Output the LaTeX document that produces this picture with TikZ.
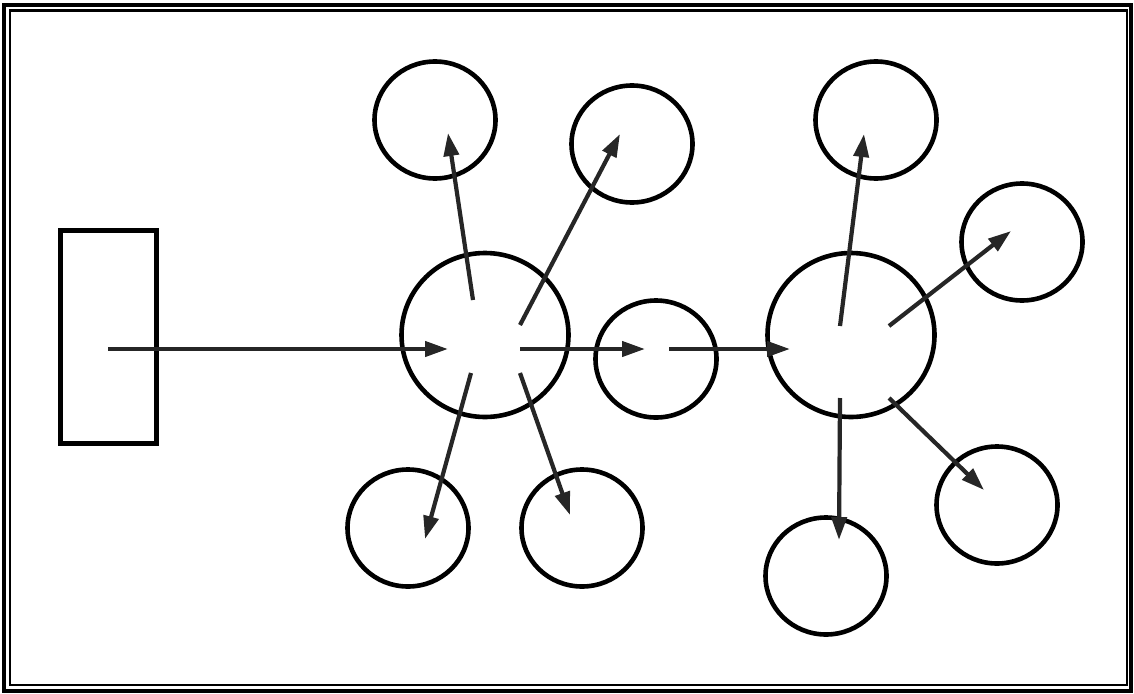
\documentclass[tikz,border=0pt]{standalone}
\usepackage{tikz}
\usetikzlibrary{arrows,arrows.meta,shapes}
\tikzstyle{blob}=[ellipse,draw,line width=4.6pt,inner sep=0pt,minimum width=121pt,minimum height=117pt]
\tikzstyle{hub}=[blob,minimum width=167pt,minimum height=164pt]
\tikzstyle{flow}=[line width=4.2pt,black!85,->,>={Triangle[length=23pt,width=15pt]}]

\begin{document}
\begin{tikzpicture}[x=1pt, y=-1pt]

    \useasboundingbox (0,0) rectangle (1134,693);

    % frame
    \draw[line width=3.5pt] (4,5) rectangle (1131,691);
    \draw[line width=2.5pt] (10,10.5) rectangle (1127,685);

    \node[draw, line width=5pt, minimum width=96pt, minimum height=213pt, inner sep=0pt] (src) at (108,336.5) {};

    \node[hub] (h1) at (485,335) {};
    \node[hub] (h2) at (851,335) {};
    \node[blob] (m) at (656,359) {};

    \foreach \pos/\name in {{(435,120)/u1}, {(632,144)/u2}, {(408,528)/d1}, {(582,528)/d2},
                            {(876,120)/u3}, {(1022,242)/r1}, {(826,576)/d3}, {(997,505)/r2}}
        \node[blob] (\name) at \pos {};

    % arrow ends
    \foreach \x/\y/\name in {108/349/s0, 448/349/s1, 520/349/s2, 645/349/s3,
                             669/349/s4, 790/349/s5,
                             473/300/p1, 448/133/q1, 520/325/p2, 620/134/q2,
                             471/373/p3, 425/539/q3, 520/373/p4, 570/515/q4,
                             840/326/p5, 864/134/q5, 889/326/p6, 1011/231/q6,
                             840/398/p7, 839/540/q7, 889/398/p8, 984/490/q8}
        \coordinate (\name) at (\x,\y);

    \draw[flow] (s0) -- (s1);
    \draw[flow] (s2) -- (s3);
    \draw[flow] (s4) -- (s5);

    \foreach \i in {1,...,8}
        \draw[flow] (p\i) -- (q\i);

\end{tikzpicture}
\end{document}
